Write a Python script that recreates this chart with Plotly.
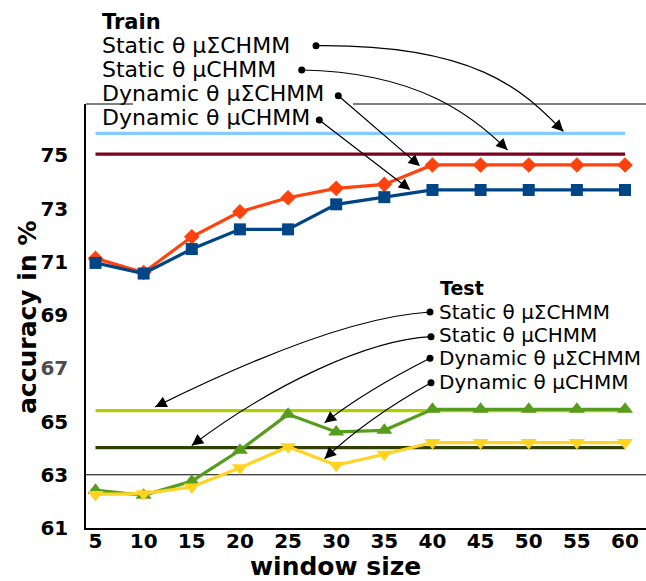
import math
import plotly.graph_objects as go

# ---------------- data ----------------
WINDOW = [5, 10, 15, 20, 25, 30, 35, 40, 45, 50, 55, 60]

TRAIN_STATIC_MUSIGMA = [75.83, 75.83, 75.83, 75.83, 75.83, 75.83, 75.83, 75.83, 75.83, 75.83, 75.83, 75.83]
TRAIN_STATIC_MU = [75.05, 75.05, 75.05, 75.05, 75.05, 75.05, 75.05, 75.05, 75.05, 75.05, 75.05, 75.05]
TRAIN_DYN_MUSIGMA = [71.13, 70.60, 71.94, 72.88, 73.41, 73.76, 73.91, 74.64, 74.64, 74.64, 74.64, 74.64]
TRAIN_DYN_MU = [70.96, 70.56, 71.48, 72.22, 72.22, 73.16, 73.43, 73.70, 73.70, 73.70, 73.70, 73.70]

TEST_STATIC_MUSIGMA = [65.41, 65.41, 65.41, 65.41, 65.41, 65.41, 65.41, 65.41, 65.41, 65.41, 65.41, 65.41]
TEST_STATIC_MU = [64.02, 64.02, 64.02, 64.02, 64.02, 64.02, 64.02, 64.02, 64.02, 64.02, 64.02, 64.02]
TEST_DYN_MUSIGMA = [62.42, 62.23, 62.76, 63.92, 65.27, 64.61, 64.67, 65.46, 65.46, 65.46, 65.46, 65.46]
TEST_DYN_MU = [62.26, 62.29, 62.54, 63.26, 64.05, 63.36, 63.77, 64.21, 64.21, 64.21, 64.21, 64.21]

Y_TICKS = [61, 63, 65, 67, 69, 71, 73, 75]
Y_TICK_TEXT = ["61", "63", "65", "67", "69", "71", "73", "75"]

SERIES_NAMES = ["Static θ μΣCHMM", "Static θ μCHMM", "Dynamic θ μΣCHMM", "Dynamic θ μCHMM"]

# ---------------- layout geometry ----------------
WIDTH, HEIGHT = 646, 581
L, T, R, B = 86, 104, 0, 53
PW = WIDTH - L - R
PH = HEIGHT - T - B
X0, X1 = 4.013, 62.18
Y0, Y1 = 61.0, 76.93


def pp(px, py):
    """figure pixels -> paper coords"""
    return (px - L) / PW, (T + PH - py) / PH


def dpx(x, y):
    """data -> figure pixels"""
    return L + PW * (x - X0) / (X1 - X0), T + PH * (1 - (y - Y0) / (Y1 - Y0))


FONT = "DejaVu Sans"
fig = go.Figure()

styles = [
    (TRAIN_STATIC_MUSIGMA, "#83caff", None, 0),
    (TRAIN_STATIC_MU, "#7e0021", None, 0),
    (TEST_STATIC_MUSIGMA, "#aecf00", None, 0),
    (TEST_STATIC_MU, "#314004", None, 0),
    (TRAIN_DYN_MUSIGMA, "#ff420e", "diamond", 12),
    (TRAIN_DYN_MU, "#004586", "square", 12),
    (TEST_DYN_MUSIGMA, "#579d1c", "triangle-up", 14),
    (TEST_DYN_MU, "#ffd320", "triangle-down", 14),
]
names = ["Train " + n for n in SERIES_NAMES[:2]] + ["Test " + n for n in SERIES_NAMES[:2]] + \
        ["Train " + n for n in SERIES_NAMES[2:]] + ["Test " + n for n in SERIES_NAMES[2:]]
for (vals, col, sym, size), nm in zip(styles, names):
    fig.add_trace(go.Scatter(
        x=WINDOW, y=vals, name=nm,
        mode="lines+markers" if sym else "lines",
        line=dict(color=col, width=3.2),
        marker=dict(symbol=sym, size=size, color=col) if sym else None,
        showlegend=False, cliponaxis=False,
    ))

shapes = []
annotations = []

# gridline at 63
shapes.append(dict(type="line", xref="paper", yref="y", x0=0, x1=1, y0=63, y1=63,
                   line=dict(color="black", width=1), layer="below"))
# top frame (interrupted behind the legend)
for a, b in [(86, 133), (353, 646)]:
    shapes.append(dict(type="line", xref="paper", yref="paper", x0=pp(a, 0)[0], x1=pp(b, 0)[0],
                       y0=1, y1=1, line=dict(color="#555555", width=1.5)))

# legend texts
def text(px, py, s, size, bold=False):
    x, y = pp(px, py)
    annotations.append(dict(x=x, y=y, xref="paper", yref="paper", text=s, showarrow=False,
                            xanchor="left", yanchor="middle",
                            font=dict(family=FONT, size=size, color="black",
                                      weight=700 if bold else 400)))

text(100, 22, "Train", 21, True)
for py, s in zip([46, 70, 93, 117], SERIES_NAMES):
    text(100, py, s, 22)
text(438, 288, "Test", 19, True)
for py, s in zip([312, 335, 358, 382], SERIES_NAMES):
    text(437, py, s, 20)


def dot(px, py):
    x, y = pp(px, py)
    shapes.append(dict(type="circle", xref="paper", yref="paper", xsizemode="pixel", ysizemode="pixel",
                       xanchor=x, yanchor=y, x0=-3.5, x1=3.5, y0=-3.5, y1=3.5,
                       fillcolor="black", line=dict(color="black", width=0)))


def head(tip, ctrl):
    dx, dy = tip[0] - ctrl[0], tip[1] - ctrl[1]
    n = math.hypot(dx, dy)
    x, y = pp(*tip)
    annotations.append(dict(x=x, y=y, xref="paper", yref="paper", text="", showarrow=True,
                            ax=-dx / n * 10, ay=-dy / n * 10, axref="pixel", ayref="pixel",
                            arrowhead=2, arrowsize=1.9, arrowwidth=1.2, arrowcolor="black", standoff=0))


def curve(start, c1, c2, tip_data):
    tip = dpx(*tip_data)
    dot(*start)
    pts = [pp(*start), pp(*c1), pp(*c2), pp(*tip)]
    path = "M {},{} C {},{} {},{} {},{}".format(*[v for p in pts for v in p])
    shapes.append(dict(type="path", xref="paper", yref="paper", path=path,
                       line=dict(color="black", width=1.2)))
    head(tip, c2)


def straight(start, tip_data):
    tip = dpx(*tip_data)
    dot(*start)
    x, y = pp(*tip)
    annotations.append(dict(x=x, y=y, xref="paper", yref="paper", text="", showarrow=True,
                            ax=start[0] - tip[0], ay=start[1] - tip[1], axref="pixel", ayref="pixel",
                            arrowhead=2, arrowsize=1.9, arrowwidth=1.2, arrowcolor="black", standoff=0))


# Train arrows
curve((316, 45.7), (480, 44), (525, 93), (53.6, 75.9))
curve((301.7, 70), (420, 72), (475, 118), (47.8, 75.2))
straight((338.3, 95.7), (38.7, 74.6))
straight((319.3, 120), (37.7, 73.7))
# Test arrows
curve((430, 312), (362, 316), (270, 350), (11.2, 65.55))
curve((431, 336.7), (367, 340), (272, 385), (15.0, 64.1))
curve((430, 358.3), (397, 375), (360, 395), (28.8, 64.95))
curve((431, 382.7), (400, 400), (360, 425), (28.8, 63.6))

# axis titles
ax_, ay_ = pp(27, 318)
annotations.append(dict(x=ax_, y=ay_, xref="paper", yref="paper", text="accuracy in %",
                        textangle=-90, showarrow=False, xanchor="center", yanchor="middle",
                        font=dict(family=FONT, size=25, color="black", weight=700)))
bx_, by_ = pp(335, 566)
annotations.append(dict(x=bx_, y=by_, xref="paper", yref="paper", text="window size",
                        showarrow=False, xanchor="center", yanchor="middle",
                        font=dict(family=FONT, size=25, color="black", weight=700)))

ytext = [("<span style='color:#4d4d4d'>%s</span>" % t) if t == "67" else t for t in Y_TICK_TEXT]

fig.update_layout(
    width=WIDTH, height=HEIGHT,
    margin=dict(l=L, r=R, t=T, b=B, pad=0),
    paper_bgcolor="white", plot_bgcolor="white",
    shapes=shapes, annotations=annotations,
    xaxis=dict(range=[X0, X1], tickvals=WINDOW, showgrid=False, zeroline=False,
               showline=True, linecolor="black", linewidth=1.5, ticks="", ticklabelstandoff=-6,
               tickfont=dict(family=FONT, size=20, color="black", weight=700)),
    yaxis=dict(range=[Y0, Y1], tickvals=Y_TICKS, ticktext=ytext, showgrid=False, zeroline=False,
               showline=True, linecolor="black", linewidth=1.5, ticks="", ticklabelstandoff=12,
               tickfont=dict(family=FONT, size=20, color="black", weight=700)),
)

fig.write_html("out.html", config={"displayModeBar": False},
               post_script="document.body.style.margin='0px';")
